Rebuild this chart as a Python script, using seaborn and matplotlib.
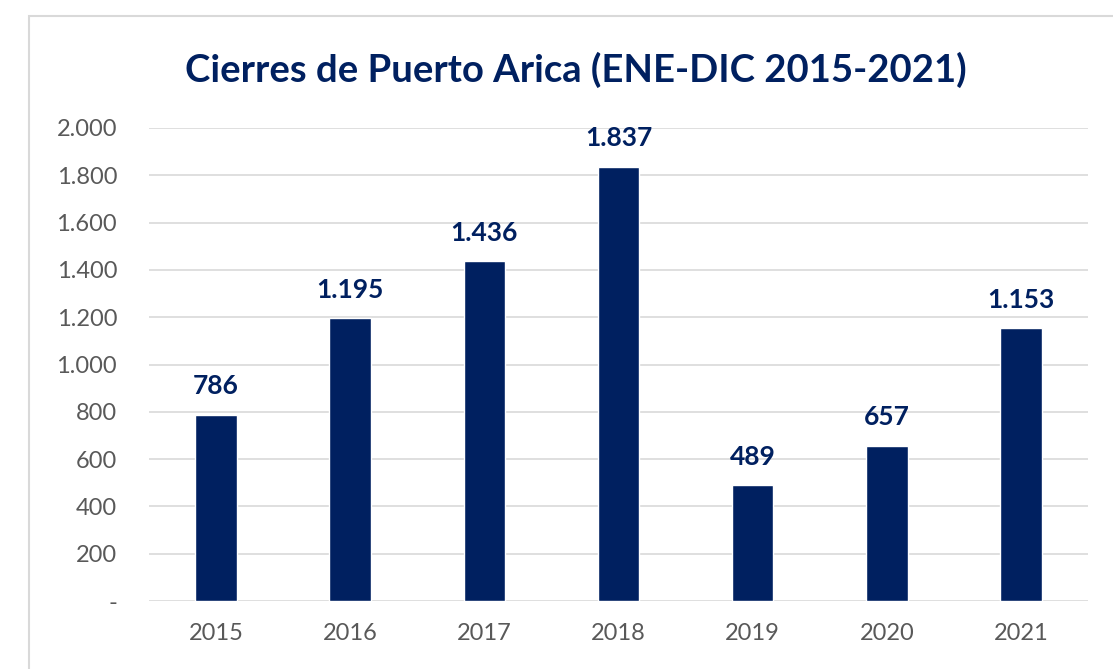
import matplotlib
matplotlib.use('Agg')
import matplotlib.pyplot as plt
import matplotlib.patches as mpatches
import seaborn as sns
import pandas as pd

years = ['2015', '2016', '2017', '2018', '2019', '2020', '2021']
cierres = [786, 1195, 1436, 1837, 489, 657, 1153]
yticks = [0, 200, 400, 600, 800, 1000, 1200, 1400, 1600, 1800, 2000]

navy = '#002060'
gray = '#595959'


def fmt_miles(v):
    # separador de miles con punto, cero como guion
    if v == 0:
        return '-'
    return f'{v:,.0f}'.replace(',', '.')


df = pd.DataFrame({'anio': years, 'cierres': cierres})

sns.set_theme(style='white')
plt.rcParams['font.family'] = ['Lato', 'DejaVu Sans']

fig = plt.figure(figsize=(11.13, 6.69), dpi=100)
ax = fig.add_axes([0.1339, 0.1016, 0.8436, 0.7071])

sns.barplot(data=df, x='anio', y='cierres', color=navy, width=0.31,
            saturation=1, ax=ax)

ax.set_ylim(0, 2000)
ax.set_xlim(-0.5, len(years) - 0.5)
ax.set_yticks(yticks)
ax.set_yticklabels([fmt_miles(v) for v in yticks])
ax.yaxis.grid(True, color='#d9d9d9', linewidth=1.2)
ax.set_axisbelow(True)
for s in ax.spines.values():
    s.set_visible(False)
ax.tick_params(axis='both', length=0, labelsize=17, labelcolor=gray)
ax.tick_params(axis='y', pad=23)
ax.tick_params(axis='x', pad=16)
ax.set_xlabel('')
ax.set_ylabel('')

for i, v in enumerate(cierres):
    ax.annotate(fmt_miles(v), (i, v), xytext=(0, 12), textcoords='offset points',
                ha='center', va='bottom', fontsize=19, fontweight='bold', color=navy)

fig.text(0.517, 0.895, 'Cierres de Puerto Arica (ENE-DIC 2015-2021)',
         ha='center', va='center', fontsize=27.5, fontweight='bold', color=navy)

# marco del grafico
frame = mpatches.Rectangle((29 / 1113, -0.05), 1.1, 0.05 + (1 - 16 / 669),
                           transform=fig.transFigure, fill=False,
                           edgecolor='#d9d9d9', linewidth=1.5)
fig.patches.append(frame)

fig.savefig('out.png', dpi=100, facecolor='white')
